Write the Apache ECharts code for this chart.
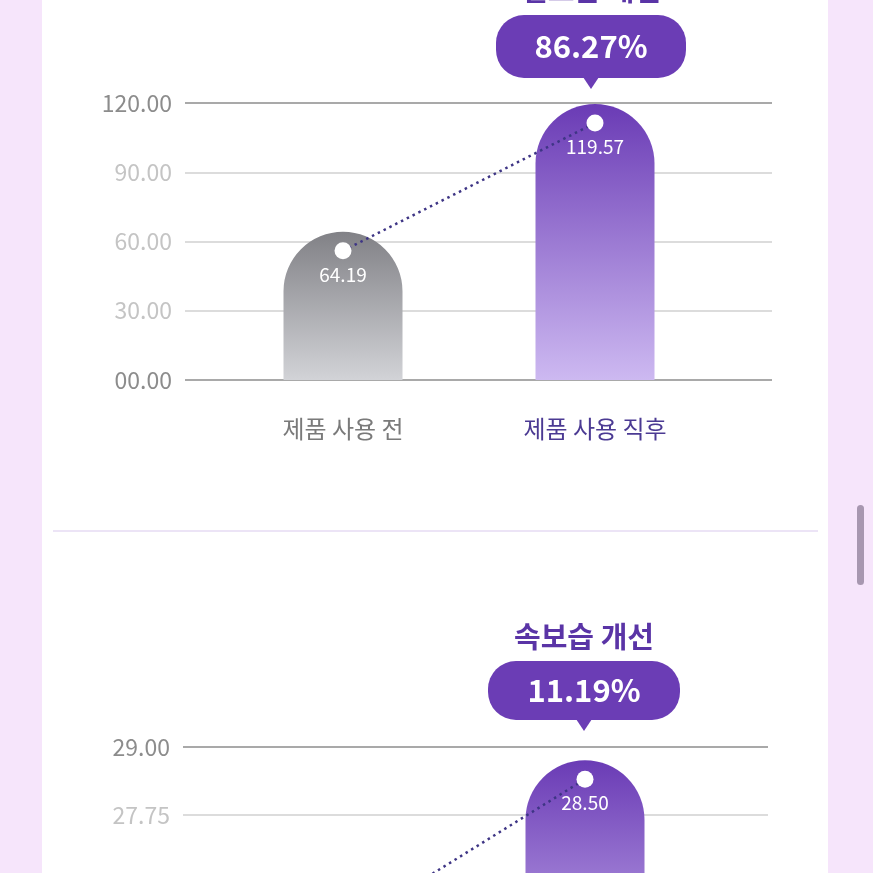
<!DOCTYPE html>
<html><head><meta charset="utf-8">
<style>html,body{margin:0;padding:0;background:#f6e5fb;}#c{width:873px;height:873px;}</style>
<script src="https://cdn.jsdelivr.net/npm/echarts@6/dist/echarts.min.js"></script>
</head><body><div id="c"></div>
<script>
// ---- data ----
const categories = ['제품 사용 전', '제품 사용 직후'];
const chart1Values = [64.19, 119.57];
const chart1Axis = { min: 0, max: 120, interval: 30 };
const chart1Title = '겉보습 개선';
const chart1Change = '86.27%';
const chart2Values = [25.63, 28.50];
const chart2Axis = { min: 24, max: 29, interval: 1.25 };
const chart2Title = '속보습 개선';
const chart2Change = '11.19%';

const FONT = '"Noto Sans CJK KR", "Noto Sans", sans-serif';
const chart = echarts.init(document.getElementById('c'), null, { renderer: 'canvas' });

function fmt(v) { return v === 0 ? '00.00' : v.toFixed(2); }

function yLabel(ax) {
  return {
    fontSize: 23, fontFamily: FONT, margin: 13,
    formatter: function (v) {
      const edge = (Math.abs(v - ax.min) < 1e-6 || Math.abs(v - ax.max) < 1e-6);
      return edge ? '{d|' + fmt(v) + '}' : '{l|' + fmt(v) + '}';
    },
    rich: { d: { color: '#8c8c8c', fontSize: 23, fontFamily: FONT }, l: { color: '#c4c4c4', fontSize: 23, fontFamily: FONT } }
  };
}

const grayGrad = new echarts.graphic.LinearGradient(0, 0, 0, 1, [{ offset: 0, color: '#818186' }, { offset: 1, color: '#d2d3d7' }]);
const purpleGrad = new echarts.graphic.LinearGradient(0, 0, 0, 1, [{ offset: 0, color: '#6a3bb5' }, { offset: 1, color: '#cdb9f1' }]);

function grids(top, height, barLeft, barRight, axLeft, axRight, barShift, lineShift) {
  return [
    { left: axLeft, right: axRight, top: top, height: height, outerBoundsMode: 'none', containLabel: false },
    { left: barLeft, right: barRight, top: top + barShift, height: height, outerBoundsMode: 'none', containLabel: false },
    { left: barLeft, right: barRight, top: top + lineShift, height: height, outerBoundsMode: 'none', containLabel: false }
  ];
}

const gridList = [].concat(
  grids(103, 277, 217, 152, 185, 101, 0, 19),
  grids(747, 272, 207, 162, 183, 105, -14, 5)
);

const xAxes = [], yAxes = [], series = [];
function buildChart(gi, ax, values, showXLabels) {
  xAxes.push({ gridIndex: gi, type: 'value', show: false });
  yAxes.push({ gridIndex: gi, type: 'value', min: ax.min, max: ax.max, interval: ax.interval,
    axisLine: { show: false }, axisTick: { show: false }, axisLabel: yLabel(ax),
    splitLine: { lineStyle: { color: ['#a9a9a9', '#dcdcdc', '#dcdcdc', '#dcdcdc', '#a9a9a9'], width: 2 } } });
  xAxes.push({ gridIndex: gi + 1, type: 'category', data: categories,
    axisLine: { show: false }, axisTick: { show: false },
    axisLabel: { show: showXLabels, margin: 37, fontFamily: FONT, fontSize: 24,
      formatter: function (v, i) { return i === 0 ? '{a|' + v + '}' : '{b|' + v + '}'; },
      rich: { a: { color: '#7a7a7a', fontSize: 24, fontFamily: FONT }, b: { color: '#4b3a93', fontSize: 24, fontFamily: FONT } } } });
  yAxes.push({ gridIndex: gi + 1, type: 'value', min: ax.min, max: ax.max, show: false, splitLine: { show: false } });
  series.push({ type: 'bar', xAxisIndex: xAxes.length - 1, yAxisIndex: yAxes.length - 1, barWidth: 119,
    data: values.map(function (v, i) { return { value: v, itemStyle: { color: i === 0 ? grayGrad : purpleGrad, borderRadius: [60, 60, 0, 0] } }; }),
    z: 2 });
  xAxes.push({ gridIndex: gi + 2, type: 'category', data: categories, show: false });
  yAxes.push({ gridIndex: gi + 2, type: 'value', min: ax.min, max: ax.max, show: false, splitLine: { show: false } });
  series.push({ type: 'line', xAxisIndex: xAxes.length - 1, yAxisIndex: yAxes.length - 1, data: values,
    symbol: 'circle', symbolSize: 17, itemStyle: { color: '#ffffff' },
    lineStyle: { color: '#3e3585', width: 2.5, type: [2.5, 4] },
    label: { show: true, position: 'bottom', distance: 6, color: '#ffffff', fontSize: 19, fontFamily: FONT,
      formatter: function (p) { return p.value.toFixed(2); } },
    z: 5 });
}
buildChart(0, chart1Axis, chart1Values, true);
buildChart(3, chart2Axis, chart2Values, false);

function bubble(cx, titleY, top, w, h, title, change) {
  return [
    { type: 'text', x: cx, y: titleY, style: { text: title, fill: '#5a34a6', font: 'bold 29px ' + FONT, textAlign: 'center', textVerticalAlign: 'middle' }, z: 10 },
    { type: 'rect', shape: { x: cx - w / 2, y: top, width: w, height: h, r: 28 }, style: { fill: '#6b3db5' }, z: 10 },
    { type: 'polygon', shape: { points: [[cx - 8, top + h - 1], [cx + 8, top + h - 1], [cx, top + h + 11]] }, style: { fill: '#6b3db5' }, z: 10 },
    { type: 'text', x: cx, y: top + h / 2, style: { text: change, fill: '#ffffff', font: 'bold 31px ' + FONT, textAlign: 'center', textVerticalAlign: 'middle' }, z: 11 }
  ];
}

const graphics = [
  { type: 'rect', shape: { x: 42, y: 0, width: 786, height: 873 }, style: { fill: '#ffffff' }, z: -10 },
  { type: 'line', shape: { x1: 53, y1: 531, x2: 818, y2: 531 }, style: { stroke: '#ece4f6', lineWidth: 2 }, z: -5 },
  { type: 'rect', shape: { x: 857, y: 505, width: 7, height: 80, r: 3.5 }, style: { fill: '#a797b0' }, z: 20 }
].concat(bubble(591, -10, 15, 190, 63, chart1Title, chart1Change), bubble(584, 637, 661, 192, 59, chart2Title, chart2Change));

chart.setOption({
  backgroundColor: '#f6e5fb',
  animation: false,
  grid: gridList,
  xAxis: xAxes,
  yAxis: yAxes,
  series: series,
  graphic: { elements: graphics }
});
</script></body></html>
